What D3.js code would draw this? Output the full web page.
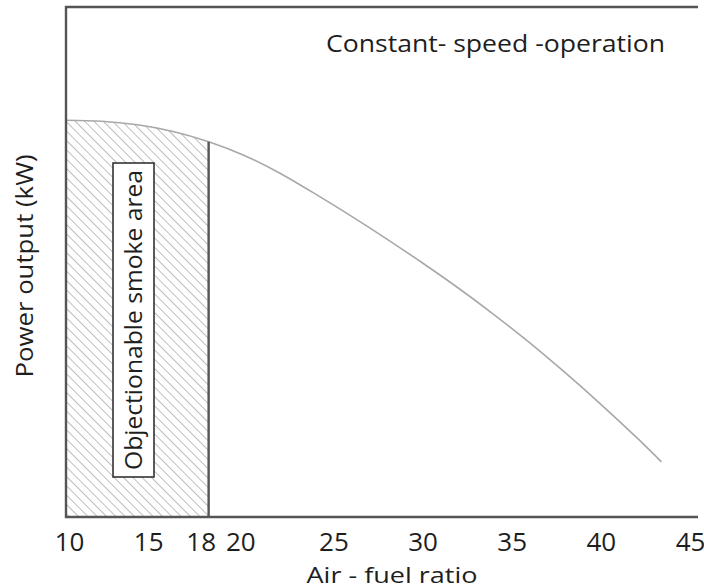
<!DOCTYPE html>
<html>
<head>
<meta charset="utf-8">
<script src="https://cdn.jsdelivr.net/npm/d3@7"></script>
<style>
  html, body { margin: 0; padding: 0; background: #fff; }
  svg { display: block; }
  text { font-family: "Open Sans", Lato, sans-serif; fill: #1e1e1e; }
</style>
</head>
<body>
<svg id="chart" width="704" height="588"></svg>
<script>
// Air-fuel ratio (x) and relative power output (y) along the constant-speed curve
const airFuelRatio = [10, 12, 14, 16, 18, 20, 22, 24, 26, 28, 30, 32, 34, 36, 38, 40, 42, 43.4];
const powerOutput  = [77.8, 77.6, 76.9, 75.6, 73.6, 70.9, 67.4, 63.3, 59.0, 54.5, 49.8, 44.9, 39.7, 34.2, 28.3, 22.1, 15.6, 10.8];
const xTickValues  = [10, 15, 18, 20, 25, 30, 35, 40, 45];
const smokeLimit   = 18;   // ratios below this give objectionable smoke

const svg = d3.select("#chart");

const plot = { left: 66, right: 698, top: 7, bottom: 517 };
const x = d3.scaleLinear().domain([10, 45]).range([plot.left, 690]);
const y = d3.scaleLinear().domain([0, 100]).range([plot.bottom, plot.top]);

const points = airFuelRatio.map((r, i) => ({ r, p: powerOutput[i] }));

// hatch pattern for the smoke region
const defs = svg.append("defs");
const pat = defs.append("pattern")
  .attr("id", "hatch")
  .attr("patternUnits", "userSpaceOnUse")
  .attr("width", 6.6).attr("height", 6.6)
  .attr("patternTransform", "rotate(-45)");
pat.append("line")
  .attr("x1", 0).attr("y1", 0).attr("x2", 0).attr("y2", 6.6)
  .attr("stroke", "#8a8a8a").attr("stroke-width", 1.1);

const curve = d3.curveNatural;

// shaded smoke area under the curve
const smokePts = points.filter(d => d.r <= smokeLimit);
svg.append("path")
  .datum(smokePts)
  .attr("d", d3.area().curve(curve).x(d => x(d.r)).y0(y(0)).y1(d => y(d.p)))
  .attr("fill", "url(#hatch)");

// power curve
svg.append("path")
  .datum(points)
  .attr("d", d3.line().curve(curve).x(d => x(d.r)).y(d => y(d.p)))
  .attr("fill", "none")
  .attr("stroke", "#a8a8a8")
  .attr("stroke-width", 1.6);

// smoke limit boundary
const pAtLimit = powerOutput[airFuelRatio.indexOf(smokeLimit)];
svg.append("line")
  .attr("x1", x(smokeLimit)).attr("x2", x(smokeLimit))
  .attr("y1", y(pAtLimit)).attr("y2", y(0))
  .attr("stroke", "#555").attr("stroke-width", 2.4);

// frame: left axis, bottom axis, top border
svg.append("path")
  .attr("d", `M${plot.right},${plot.top}H${plot.left}V${plot.bottom}H${plot.right}`)
  .attr("stroke", "#555").attr("stroke-width", 2.4).attr("fill", "none");

// x axis labels (15 and 18 sit a little left of their ticks)
const labelNudge = { 10: 3, 15: -7, 18: -8, 20: -4 };
const xAxis = d3.axisBottom(x).tickValues(xTickValues).tickSize(0).tickPadding(0).tickFormat(d3.format("d"));
const gx = svg.append("g").attr("transform", `translate(0,${plot.bottom})`).call(xAxis);
gx.select(".domain").remove();
gx.selectAll("text")
  .attr("dy", null).attr("y", 34)
  .attr("dx", d => labelNudge[d] || 0)
  .style("font-size", "26px")
  .style("font-family", "'Open Sans', sans-serif")
  .attr("fill", "#1e1e1e");

// axis titles
svg.append("text")
  .attr("x", 392).attr("y", 583)
  .attr("text-anchor", "middle")
  .attr("textLength", 171).attr("lengthAdjust", "spacingAndGlyphs")
  .style("font-size", "22px")
  .text("Air - fuel ratio");

svg.append("text")
  .attr("transform", "translate(33,266) rotate(-90)")
  .attr("text-anchor", "middle")
  .attr("textLength", 223).attr("lengthAdjust", "spacingAndGlyphs")
  .style("font-size", "23px")
  .text("Power output (kW)");

// annotation
svg.append("text")
  .attr("x", 326).attr("y", 52)
  .attr("textLength", 339).attr("lengthAdjust", "spacingAndGlyphs")
  .style("font-size", "23px")
  .text("Constant- speed -operation");

// boxed label inside the smoke region
svg.append("rect")
  .attr("x", 113).attr("y", 163).attr("width", 41).attr("height", 314)
  .attr("fill", "#fff").attr("stroke", "#333").attr("stroke-width", 1.6);
svg.append("text")
  .attr("transform", "translate(142,320) rotate(-90)")
  .attr("text-anchor", "middle")
  .attr("textLength", 300).attr("lengthAdjust", "spacingAndGlyphs")
  .style("font-size", "23px")
  .text("Objectionable smoke area");
</script>
</body>
</html>
